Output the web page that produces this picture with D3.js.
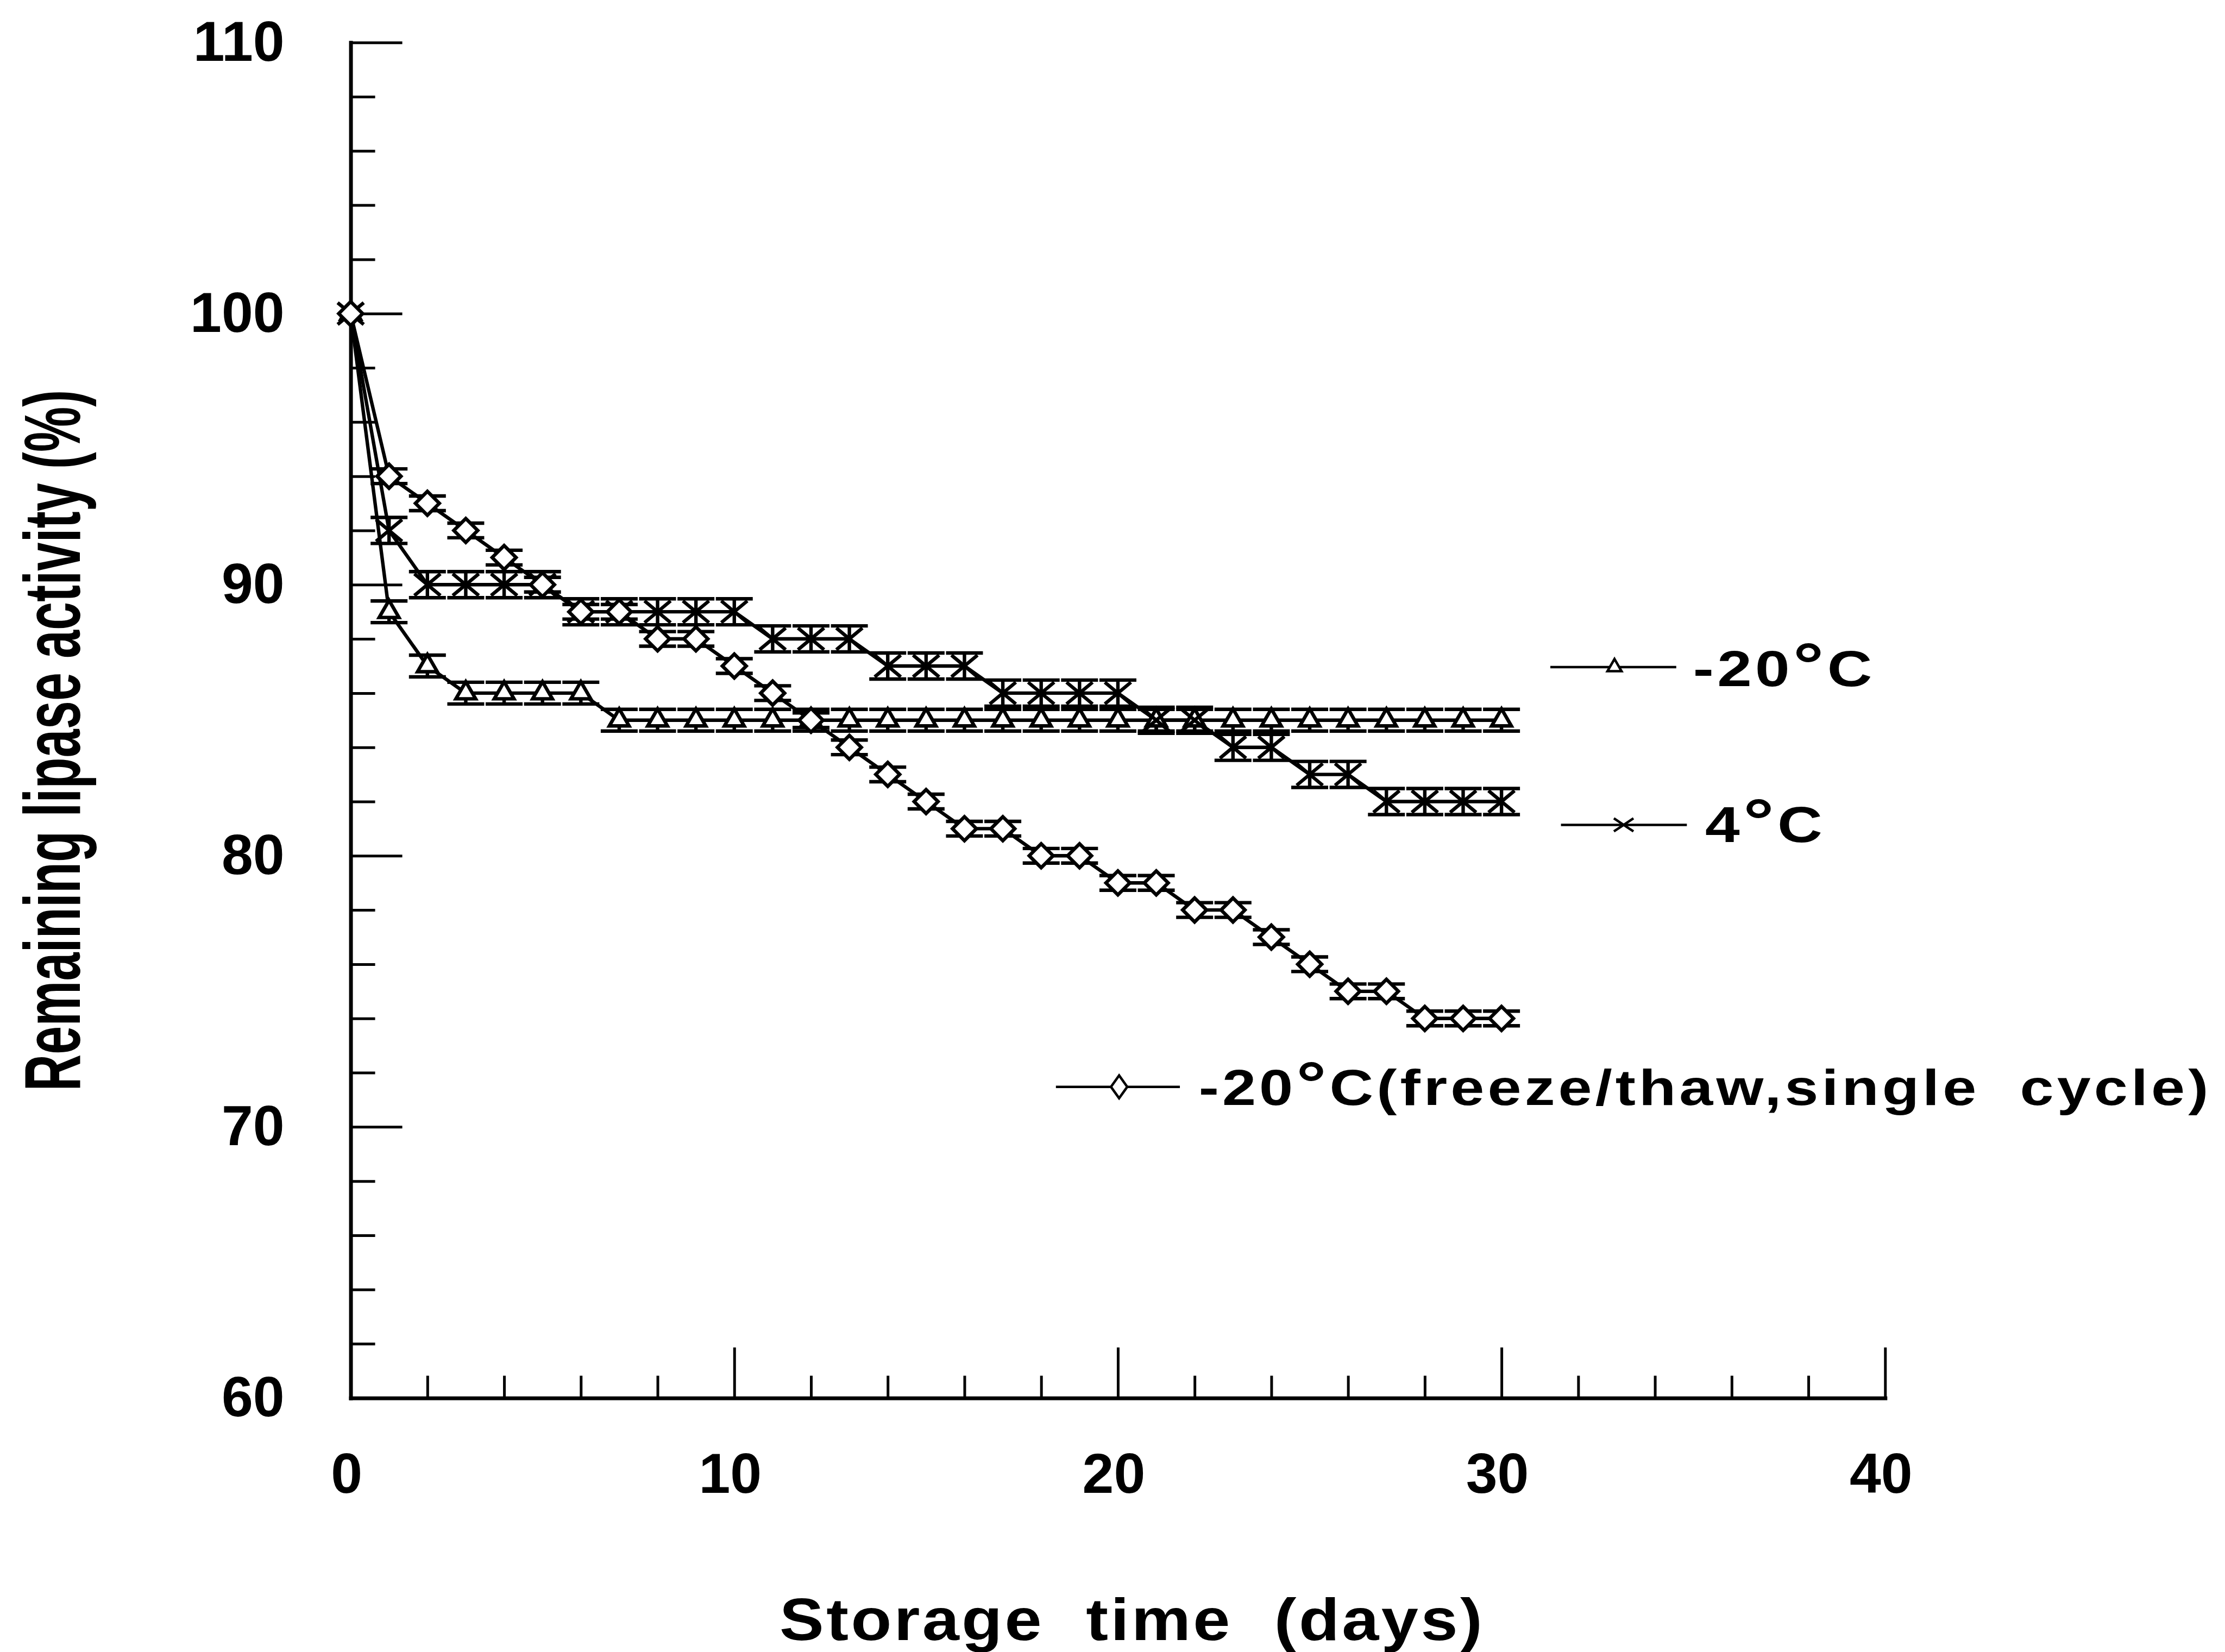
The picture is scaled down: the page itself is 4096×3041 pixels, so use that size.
<!DOCTYPE html>
<html>
<head>
<meta charset="utf-8">
<script src="https://cdn.jsdelivr.net/npm/d3@7"></script>
<style>
  html, body { margin: 0; padding: 0; background: #ffffff; }
  svg { display: block; }
</style>
</head>
<body>
<svg id="chart" width="4096" height="3041"></svg>
<script>
// ---------------- DATA ----------------
const days = [0,1,2,3,4,5,6,7,8,9,10,11,12,13,14,15,16,17,18,19,20,21,22,23,24,25,26,27,28,29,30];

// -20°C
const activityMinus20 = [100,89,87,86,86,86,86,85,85,85,85,85,85,85,85,85,85,85,85,85,85,85,85,85,85,85,85,85,85,85,85];
// 4°C
const activity4C = [100,92,90,90,90,90,89,89,89,89,89,88,88,88,87,87,87,86,86,86,86,85,85,84,84,83,83,82,82,82,82];
// -20°C (freeze/thaw, single cycle)
const activityFreezeThaw = [100,94,93,92,91,90,89,89,88,88,87,86,85,84,83,82,81,81,80,80,79,79,78,78,77,76,75,75,74,74,74];

// error (± % activity)
const errMinus20 = [0,0.4,0.4,0.4,0.4,0.4,0.4,0.4,0.4,0.4,0.4,0.4,0.4,0.4,0.4,0.4,0.4,0.4,0.4,0.4,0.4,0.4,0.4,0.4,0.4,0.4,0.4,0.4,0.4,0.4,0.4];
const err4C = [0,0.48,0.48,0.48,0.48,0.48,0.48,0.48,0.48,0.48,0.48,0.48,0.48,0.48,0.48,0.48,0.48,0.48,0.48,0.48,0.48,0.48,0.48,0.48,0.48,0.48,0.48,0.48,0.48,0.48,0.48];
const errFreezeThaw = [0,0.27,0.27,0.27,0.27,0.27,0.27,0.27,0.27,0.27,0.27,0.27,0.27,0.27,0.27,0.27,0.27,0.27,0.27,0.27,0.27,0.27,0.27,0.27,0.27,0.27,0.27,0.27,0.27,0.27,0.27];

const xTickLabels = [0,10,20,30,40];
const yTickLabels = [60,70,80,90,100,110];

const legendPre  = ["-20", "4", "-20"];
const legendPost = ["C", "C", "C(freeze/thaw,single  cycle)"];

const xTitle = "Storage  time  (days)";
const yTitle = "Remaining lipase activity (%)";

// ---------------- LAYOUT ----------------
const S = 0.888;                       // reference -> window scale
const FONT = "'Liberation Sans', Arial, Helvetica, sans-serif";
const svg = d3.select('#chart');
svg.append('rect').attr('width', 4096).attr('height', 3041).attr('fill', '#ffffff');

const x = d3.scaleLinear().domain([0, 40]).range([727 * S, 3908 * S]);
const y = d3.scaleLinear().domain([60, 110]).range([2898 * S, 88 * S]);

const STROKE = 6.4;

// ---------------- AXES ----------------
const xMinor = d3.range(0, 41, 2).filter(v => v % 10 !== 0);
const yMinor = d3.range(60, 111, 2).filter(v => v % 10 !== 0);

const gxMinor = svg.append('g').attr('transform', `translate(0,${y(60)})`)
  .call(d3.axisBottom(x).tickValues(xMinor).tickSizeInner(-41).tickSizeOuter(0).tickFormat(''));
gxMinor.select('.domain').remove();
const gx = svg.append('g').attr('transform', `translate(0,${y(60)})`)
  .call(d3.axisBottom(x).tickValues(xTickLabels).tickSizeInner(-93).tickSizeOuter(0).tickPadding(101).tickFormat(d3.format('d')));

const gyMinor = svg.append('g').attr('transform', `translate(${x(0)},0)`)
  .call(d3.axisLeft(y).tickValues(yMinor).tickSizeInner(-45).tickSizeOuter(0).tickFormat(''));
gyMinor.select('.domain').remove();
const gy = svg.append('g').attr('transform', `translate(${x(0)},0)`)
  .call(d3.axisLeft(y).tickValues(yTickLabels).tickSizeInner(-95).tickSizeOuter(0).tickPadding(122).tickFormat(d3.format('d')));

[gx, gy, gxMinor, gyMinor].forEach(g => {
  g.selectAll('.tick line').attr('stroke', '#000').attr('stroke-width', 5);
  g.selectAll('.domain').attr('stroke', '#000').attr('stroke-width', 7).attr('stroke-linecap', 'square');
  g.selectAll('text').attr('fill', '#000').attr('font-family', FONT).attr('font-weight', 'bold').attr('font-size', 104);
});
gx.selectAll('.tick text').attr('dx', -8);

// Axis titles
svg.append('text')
  .attr('x', 2347 * S).attr('y', 3400 * S)
  .attr('text-anchor', 'middle')
  .attr('font-family', FONT).attr('font-weight', 'bold').attr('font-size', 110)
  .attr('textLength', 1462 * S).attr('lengthAdjust', 'spacingAndGlyphs')
  .attr('letter-spacing', 4)
  .attr('xml:space', 'preserve').style('white-space', 'pre')
  .attr('fill', '#000')
  .text(xTitle);

// Y title: condensed by a horizontal scale so that it spans the reference length
const yTitleNode = svg.append('text')
  .attr('text-anchor', 'middle')
  .attr('font-family', "'Liberation Sans Narrow', 'Liberation Sans', Arial, sans-serif")
  .attr('font-weight', 'bold').attr('font-size', 146)
  .attr('fill', '#000')
  .text(yTitle);
const naturalLen = yTitleNode.node().getComputedTextLength();
const yTitleScale = (1454 * S) / naturalLen;
yTitleNode.attr('transform', `translate(${165 * S},${1535 * S}) rotate(-90) scale(${yTitleScale},1)`);

// ---------------- MARKERS ----------------
function triPath(r) {
  const s = Math.sqrt(3) * r;
  return `M0,${-2 * r}L${s},${r}L${-s},${r}Z`;
}
function diamondPath(w, h) {
  return `M0,${-h}L${w},0L0,${h}L${-w},0Z`;
}
function crossPath(w, h) {
  return `M${-w},${-h}L${w},${h}M${-w},${h}L${w},${-h}`;
}

const series = [
  { values: activityMinus20, err: errMinus20, marker: 'tri' },
  { values: activity4C, err: err4C, marker: 'cross' },
  { values: activityFreezeThaw, err: errFreezeThaw, marker: 'diamond' }
];

const line = d3.line().x(d => x(d.day)).y(d => y(d.v));
const pts = series.map(s => days.map((d, i) => ({ day: d, v: s.values[i], e: s.err[i] })));

const gLines = svg.append('g');
pts.forEach(p => {
  gLines.append('path').datum(p).attr('d', line)
    .attr('fill', 'none').attr('stroke', '#000').attr('stroke-width', STROKE)
    .attr('stroke-linejoin', 'round');
});

const CAP = 34;
const gErr = svg.append('g').attr('stroke', '#000').attr('stroke-width', STROKE).attr('fill', 'none');
pts.forEach(p => {
  p.filter(d => d.e > 0).forEach(d => {
    const cx = x(d.day), y1 = y(d.v + d.e), y2 = y(d.v - d.e);
    gErr.append('line').attr('x1', cx).attr('x2', cx).attr('y1', y1).attr('y2', y2);
    gErr.append('line').attr('x1', cx - CAP).attr('x2', cx + CAP).attr('y1', y1).attr('y2', y1);
    gErr.append('line').attr('x1', cx - CAP).attr('x2', cx + CAP).attr('y1', y2).attr('y2', y2);
  });
});

const gMark = svg.append('g');
pts.forEach((p, si) => {
  const m = series[si].marker;
  gMark.selectAll(null).data(p).enter().append('path')
    .attr('transform', d => `translate(${x(d.day)},${y(d.v)})`)
    .attr('d', m === 'tri' ? triPath(10.5) : m === 'diamond' ? diamondPath(22, 22) : crossPath(24, 20))
    .attr('fill', m === 'cross' ? 'none' : '#fff')
    .attr('stroke', '#000').attr('stroke-width', STROKE)
    .attr('stroke-linejoin', 'miter');
});

// ---------------- LEGEND ----------------
const legendPos = [
  { x1: 3214, x2: 3475, y: 1383, mx: 3347, tx: 3510, ty: 1422, len: 378, marker: 'tri' },
  { x1: 3236, x2: 3497, y: 1710, mx: 3366, tx: 3535, ty: 1745, len: 250, marker: 'cross' },
  { x1: 2189, x2: 2446, y: 2253, mx: 2320, tx: 2485, ty: 2290, len: 2100, marker: 'diamond' }
];
legendPos.forEach((L, i) => {
  const g = svg.append('g');
  g.append('line').attr('x1', L.x1 * S).attr('x2', L.x2 * S).attr('y1', L.y * S).attr('y2', L.y * S)
    .attr('stroke', '#000').attr('stroke-width', 4.5);
  g.append('path')
    .attr('transform', `translate(${L.mx * S},${L.y * S})`)
    .attr('d', L.marker === 'tri' ? triPath(7.5) : L.marker === 'diamond' ? diamondPath(15, 21) : crossPath(18, 12))
    .attr('fill', L.marker === 'cross' ? 'none' : '#fff')
    .attr('stroke', '#000').attr('stroke-width', 4.5);
  const t = g.append('text')
    .attr('x', L.tx * S).attr('y', L.ty * S)
    .attr('font-family', FONT).attr('font-weight', 'bold').attr('font-size', 92)
    .attr('letter-spacing', 5)
    .attr('textLength', L.len * S).attr('lengthAdjust', 'spacingAndGlyphs')
    .attr('xml:space', 'preserve')
    .style('white-space', 'pre')
    .attr('fill', '#000');
  t.append('tspan').text(legendPre[i]);
  t.append('tspan').attr('font-size', 114).text('\u00B0');
  t.append('tspan').text(legendPost[i]);
});
</script>
</body>
</html>
